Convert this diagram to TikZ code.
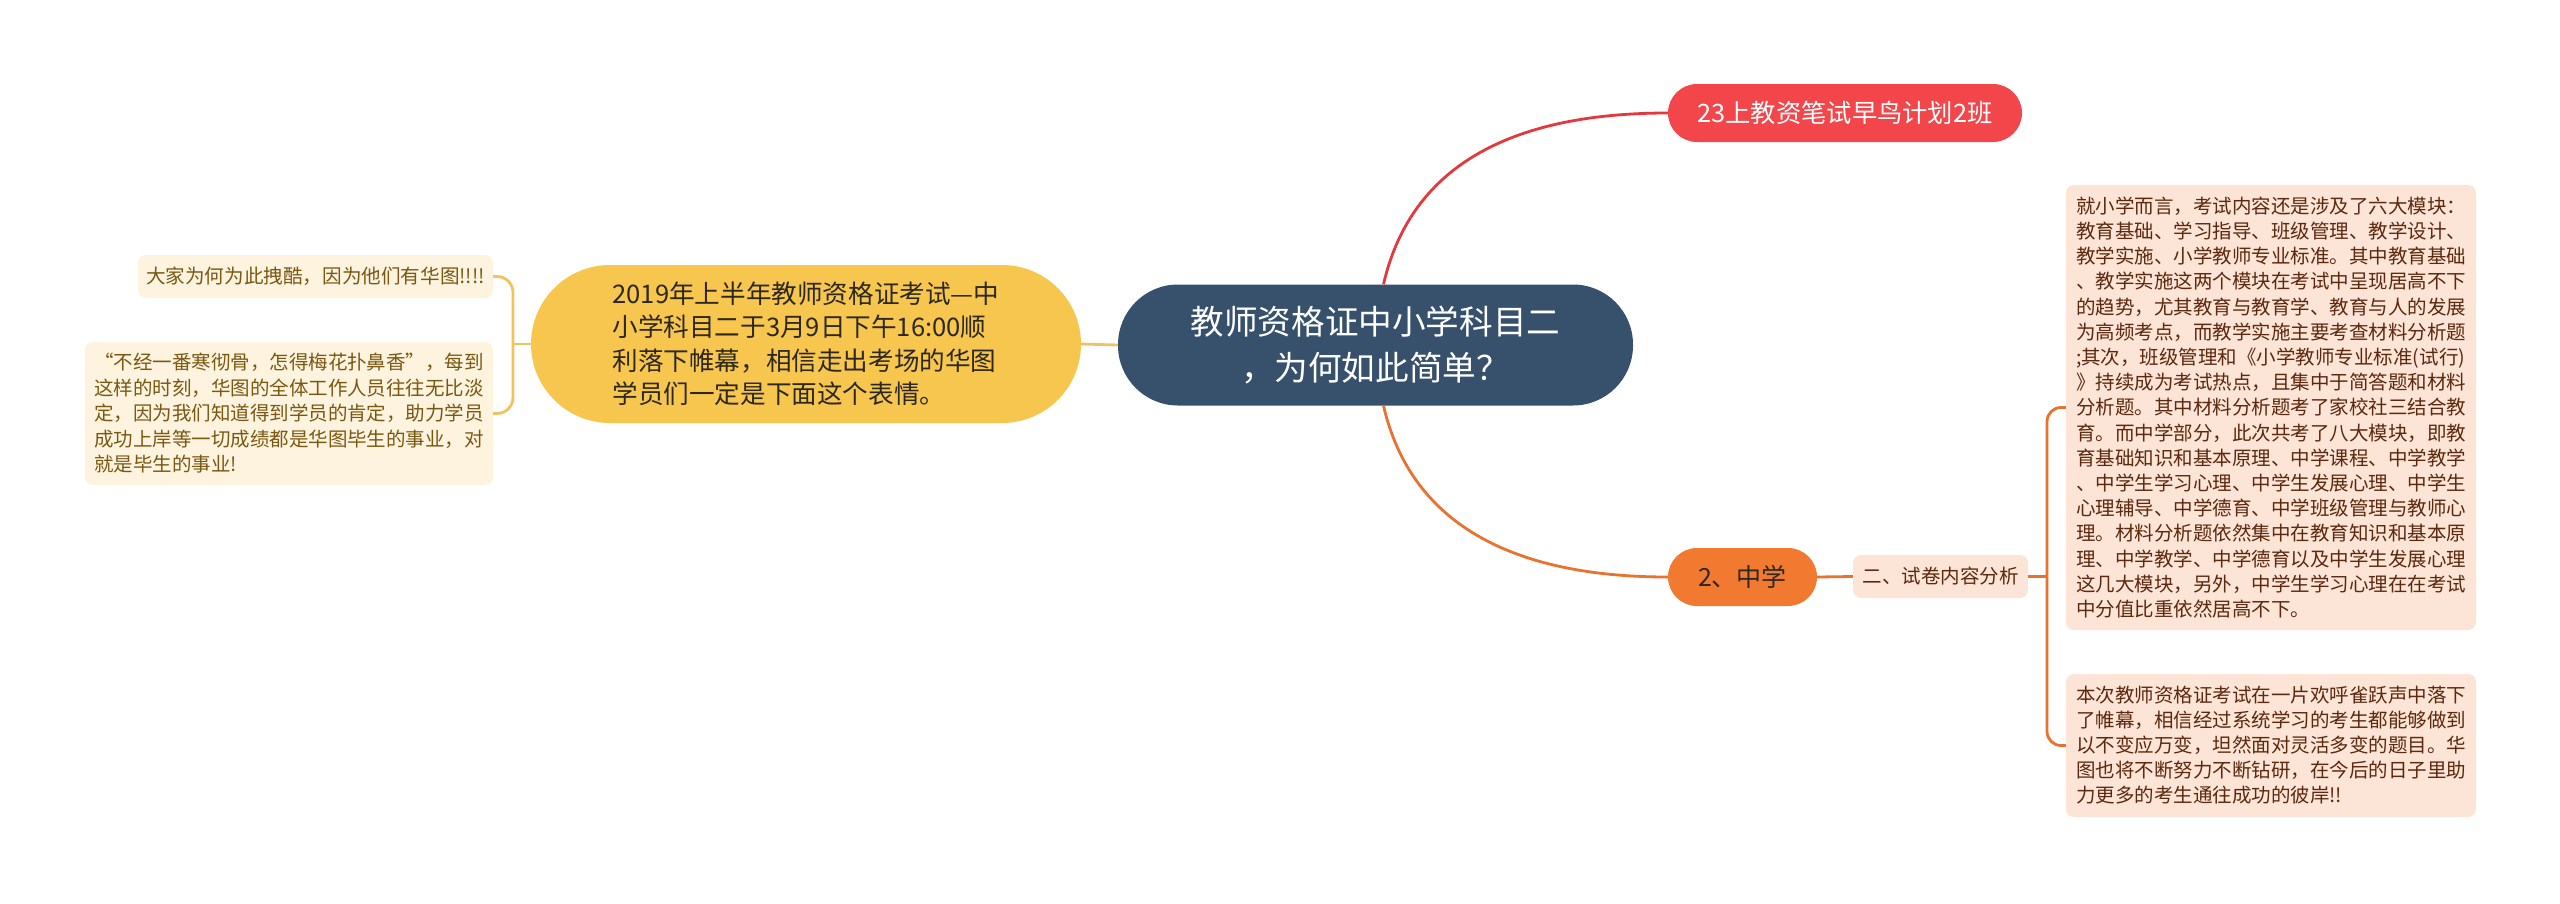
\documentclass[tikz,border=0pt]{standalone}
\usepackage{fontspec}
\setmainfont{Noto Sans CJK SC}
\usetikzlibrary{calc}
\definecolor{cblue}{RGB}{55,81,109}
\definecolor{cred}{RGB}{242,70,74}
\definecolor{credline}{RGB}{226,58,60}
\definecolor{cyellow}{RGB}{247,198,78}
\definecolor{cyline}{RGB}{240,196,92}
\definecolor{corange}{RGB}{241,121,48}
\definecolor{coline}{RGB}{232,114,48}
\definecolor{cpeach}{RGB}{252,228,214}
\definecolor{cpeachtxt}{RGB}{92,40,14}
\definecolor{ccream}{RGB}{253,243,222}
\definecolor{ccreamtxt}{RGB}{122,88,18}
\definecolor{cdark}{RGB}{45,40,30}
\tikzset{
  pill/.style={inner sep=0pt, align=center},
  leafbox/.style={inner sep=0pt, rounded corners=8pt, align=left},
  conn/.style={line width=2.8pt},
}
\begin{document}
\begin{tikzpicture}[x=1pt,y=-1pt]
\fill[white] (0,0) rectangle (2560,903);
\useasboundingbox (0,0) rectangle (2560,903);

% central
\node[pill, fill=cblue, text=white, minimum width=515pt, minimum height=121pt, rounded corners=60pt,
  font=\fontsize{33.6}{46}\selectfont] (center) at (1375.5,345)
  {教师资格证中小学科目二\\，为何如此简单？};

% red
\node[pill, fill=cred, text=white, minimum width=354pt, minimum height=58pt, rounded corners=29pt,
  font=\fontsize{25.3}{30}\selectfont] (red) at (1845,113) {23上教资笔试早鸟计划2班};

% orange
\node[pill, fill=corange, text=cdark, minimum width=149pt, minimum height=58pt, rounded corners=29pt,
  font=\fontsize{25}{30}\selectfont] (orange) at (1742.5,577) {2、中学};

% sub
\node[leafbox, fill=cpeach, text=cpeachtxt, minimum width=175pt, minimum height=43pt,
  font=\fontsize{19.5}{25}\selectfont] (sub) at (1940.5,576.5) {二、试卷内容分析};

% right boxes
\node[leafbox, fill=cpeach, text=cpeachtxt, minimum width=410pt, minimum height=445pt,
  font=\fontsize{19.5}{25.2}\selectfont] (box1) at (2271,407.5)
  {就小学而言，考试内容还是涉及了六大模块：\\
   教育基础、学习指导、班级管理、教学设计、\\
   教学实施、小学教师专业标准。其中教育基础\\
   、教学实施这两个模块在考试中呈现居高不下\\
   的趋势，尤其教育与教育学、教育与人的发展\\
   为高频考点，而教学实施主要考查材料分析题\\
   ;其次，班级管理和《小学教师专业标准(试行)\\
   》持续成为考试热点，且集中于简答题和材料\\
   分析题。其中材料分析题考了家校社三结合教\\
   育。而中学部分，此次共考了八大模块，即教\\
   育基础知识和基本原理、中学课程、中学教学\\
   、中学生学习心理、中学生发展心理、中学生\\
   心理辅导、中学德育、中学班级管理与教师心\\
   理。材料分析题依然集中在教育知识和基本原\\
   理、中学教学、中学德育以及中学生发展心理\\
   这几大模块，另外，中学生学习心理在在考试\\
   中分值比重依然居高不下。};

\node[leafbox, fill=cpeach, text=cpeachtxt, minimum width=410pt, minimum height=143pt,
  font=\fontsize{19.5}{25}\selectfont] (box2) at (2271,745.5)
  {本次教师资格证考试在一片欢呼雀跃声中落下\\
   了帷幕，相信经过系统学习的考生都能够做到\\
   以不变应万变，坦然面对灵活多变的题目。华\\
   图也将不断努力不断钻研，在今后的日子里助\\
   力更多的考生通往成功的彼岸!!};

% yellow
\node[pill, align=left, fill=cyellow, text=cdark, minimum width=550pt, minimum height=158pt, rounded corners=79pt,
  font=\fontsize{25.6}{33.5}\selectfont] (yellow) at (806,344)
  {2019年上半年教师资格证考试—中\\
   小学科目二于3月9日下午16:00顺\\
   利落下帷幕，相信走出考场的华图\\
   学员们一定是下面这个表情。};

% left boxes
\node[leafbox, fill=ccream, text=ccreamtxt, minimum width=355pt, minimum height=43pt,
  font=\fontsize{19.6}{25}\selectfont] (ltop) at (315.5,276.5)
  {大家为何为此拽酷，因为他们有华图!!!!};

\node[leafbox, fill=ccream, text=ccreamtxt, minimum width=408pt, minimum height=143pt,
  font=\fontsize{19.5}{25.5}\selectfont] (lbot) at (289,413.5)
  {“不经一番寒彻骨，怎得梅花扑鼻香”，每到\\
   这样的时刻，华图的全体工作人员往往无比淡\\
   定，因为我们知道得到学员的肯定，助力学员\\
   成功上岸等一切成绩都是华图毕生的事业，对\\
   就是毕生的事业!};

% connectors
\coordinate (ctop) at ([xshift=8pt]center.north);
\coordinate (cbot) at ([xshift=8pt]center.south);
\draw[conn, credline] (ctop) .. controls (1412,160) and (1520,113) .. (red.west);
\draw[conn, coline] (cbot) .. controls (1412,529) and (1520,577) .. (orange.west);
\draw[conn, cyline] (center.west) -- (yellow.east);
\draw[conn, coline] (orange.east) -- (sub.west);

\coordinate (lb) at (513,344);
\draw[conn, cyline] (yellow.west) -- (lb);
\draw[conn, cyline, rounded corners=16pt] (ltop.east) -| (lb) |- (lbot.east);

\coordinate (rb) at (2047,576.5);
\draw[conn, coline] (sub.east) -- (rb);
\draw[conn, coline, rounded corners=14pt] (box1.west) -| (rb) |- (box2.west);
\end{tikzpicture}
\end{document}
